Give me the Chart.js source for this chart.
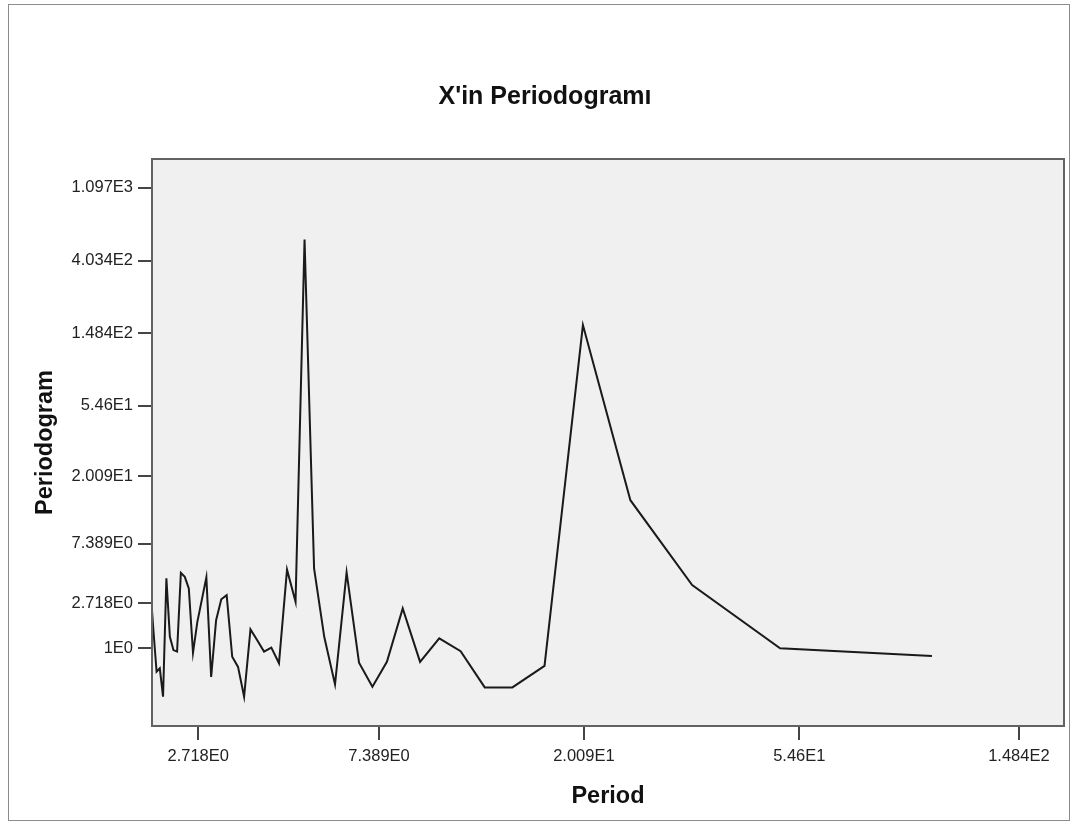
<!DOCTYPE html>
<html lang="tr">
<head>
<meta charset="utf-8">
<title>X'in Periodogramı</title>
<script src="https://cdn.jsdelivr.net/npm/chart.js"></script>
<style>
  html, body { margin: 0; padding: 0; background: #fff; }
  #wrap { width: 1078px; height: 830px; }
</style>
</head>
<body>
<div id="wrap"><canvas id="periodogramChart" width="1078" height="830"></canvas></div>
<script>
// Periods (100 / k for k = 50 .. 1) and periodogram ordinates
const periods = [
    2.000, 2.041, 2.083, 2.128, 2.174, 2.222, 2.273, 2.326, 2.381, 2.439,
    2.500, 2.564, 2.632, 2.703, 2.778, 2.857, 2.941, 3.030, 3.125, 3.226,
    3.333, 3.448, 3.571, 3.704, 3.846, 4.000, 4.167, 4.348, 4.545, 4.762,
    5.000, 5.263, 5.556, 5.882, 6.250, 6.667, 7.143, 7.692, 8.333, 9.091,
    10.000, 11.111, 12.500, 14.286, 16.667, 20.000, 25.000, 33.333, 50.000, 100.000
];
const periodogram = [
    3.44, 1.50, 0.45, 0.52, 0.03, 4.21, 1.34, 0.95, 0.91, 4.62,
    4.32, 3.54, 0.88, 1.86, 2.87, 4.28, 0.35, 1.94, 2.91, 3.14,
    0.78, 0.55, 0.03, 1.59, 1.24, 0.91, 1.02, 0.63, 4.87, 2.78,
    540.0, 4.97, 1.34, 0.22, 4.65, 0.64, 0.18, 0.66, 2.45, 0.66,
    1.29, 0.92, 0.17, 0.17, 0.57, 166.3, 14.2, 3.75, 1.00, 0.80
];

const xTickValues = [2.718, 7.389, 20.09, 54.6, 148.4];
const xTickLabels = ['2.718E0', '7.389E0', '2.009E1', '5.46E1', '1.484E2'];
const yTickValues = [1, 2.718, 7.389, 20.09, 54.6, 148.4, 403.4, 1097];
const yTickLabels = ['1E0', '2.718E0', '7.389E0', '2.009E1', '5.46E1', '1.484E2', '4.034E2', '1.097E3'];

// axis limits, in original units
const xRange = [2.02, 182];
const yRange = [-0.45, 1627];

// "safe" natural log scale: sign(v) * ln(1 + |v|)
function safeLog(v) {
    return Math.sign(v) * Math.log(1 + Math.abs(v));
}

const FONT = "'Liberation Sans', Arial, Helvetica, sans-serif";
Chart.defaults.font.family = FONT;
Chart.defaults.color = '#222';

const points = periods.map((p, i) => ({ x: safeLog(p), y: safeLog(periodogram[i]) }));

// grey plot background, plot frame and outer border
const plotFrame = {
    id: 'plotFrame',
    beforeDraw(chart) {
        const ctx = chart.ctx;
        const a = chart.chartArea;
        ctx.save();
        ctx.fillStyle = '#fff';
        ctx.fillRect(0, 0, chart.width, chart.height);
        ctx.strokeStyle = '#8c8c8c';
        ctx.lineWidth = 1;
        ctx.strokeRect(8.5, 4.5, 1061, 816);
        ctx.fillStyle = '#f0f0f0';
        ctx.fillRect(a.left, a.top, a.right - a.left, a.bottom - a.top);
        ctx.restore();
    },
    afterDraw(chart) {
        const ctx = chart.ctx;
        const a = chart.chartArea;
        ctx.save();
        ctx.strokeStyle = '#626262';
        ctx.lineWidth = 2;
        ctx.strokeRect(a.left, a.top, a.right - a.left, a.bottom - a.top);
        ctx.restore();
    }
};

const ctx = document.getElementById('periodogramChart').getContext('2d');
new Chart(ctx, {
    type: 'line',
    data: {
        datasets: [{
            label: 'Periodogram',
            data: points,
            borderColor: '#1a1a1a',
            borderWidth: 2,
            pointRadius: 0,
            tension: 0,
            fill: false
        }]
    },
    options: {
        responsive: false,
        animation: false,
        devicePixelRatio: 1,
        layout: { padding: { left: 26, right: 14, top: 0, bottom: 0 } },
        plugins: {
            legend: { display: false },
            tooltip: { enabled: false },
            title: {
                display: true,
                text: "X'in Periodogramı",
                color: '#111',
                font: { family: FONT, size: 25, weight: 'bold', lineHeight: 1.2 },
                padding: { top: 82, bottom: 47 }
            }
        },
        scales: {
            x: {
                type: 'linear',
                min: safeLog(xRange[0]),
                max: safeLog(xRange[1]),
                afterBuildTicks(scale) {
                    scale.ticks = xTickValues.map(v => ({ value: safeLog(v) }));
                },
                afterFit(scale) {
                    scale.height = 104;
                },
                ticks: {
                    autoSkip: false,
                    maxRotation: 0,
                    padding: 7,
                    color: '#222',
                    font: { family: FONT, size: 16.5 },
                    callback: (val, i) => xTickLabels[i]
                },
                grid: {
                    drawOnChartArea: false,
                    drawTicks: true,
                    tickLength: 14,
                    color: '#444',
                    lineWidth: 2
                },
                border: { display: false },
                title: {
                    display: true,
                    text: 'Period',
                    color: '#111',
                    font: { family: FONT, size: 23.5, weight: 'bold', lineHeight: 1.2 },
                    padding: { top: 0, bottom: 19 }
                }
            },
            y: {
                type: 'linear',
                min: safeLog(yRange[0]),
                max: safeLog(yRange[1]),
                afterBuildTicks(scale) {
                    scale.ticks = yTickValues.map(v => ({ value: safeLog(v) }));
                },
                afterFit(scale) {
                    scale.width = 126;
                },
                ticks: {
                    autoSkip: false,
                    padding: 5,
                    color: '#222',
                    font: { family: FONT, size: 16.5 },
                    callback: (val, i) => yTickLabels[i]
                },
                grid: {
                    drawOnChartArea: false,
                    drawTicks: true,
                    tickLength: 14,
                    color: '#444',
                    lineWidth: 2
                },
                border: { display: false },
                title: {
                    display: true,
                    text: 'Periodogram',
                    color: '#111',
                    font: { family: FONT, size: 23.5, weight: 'bold', lineHeight: 1.2 },
                    padding: { top: 5, bottom: 0 }
                }
            }
        }
    },
    plugins: [plotFrame]
});
</script>
</body>
</html>
